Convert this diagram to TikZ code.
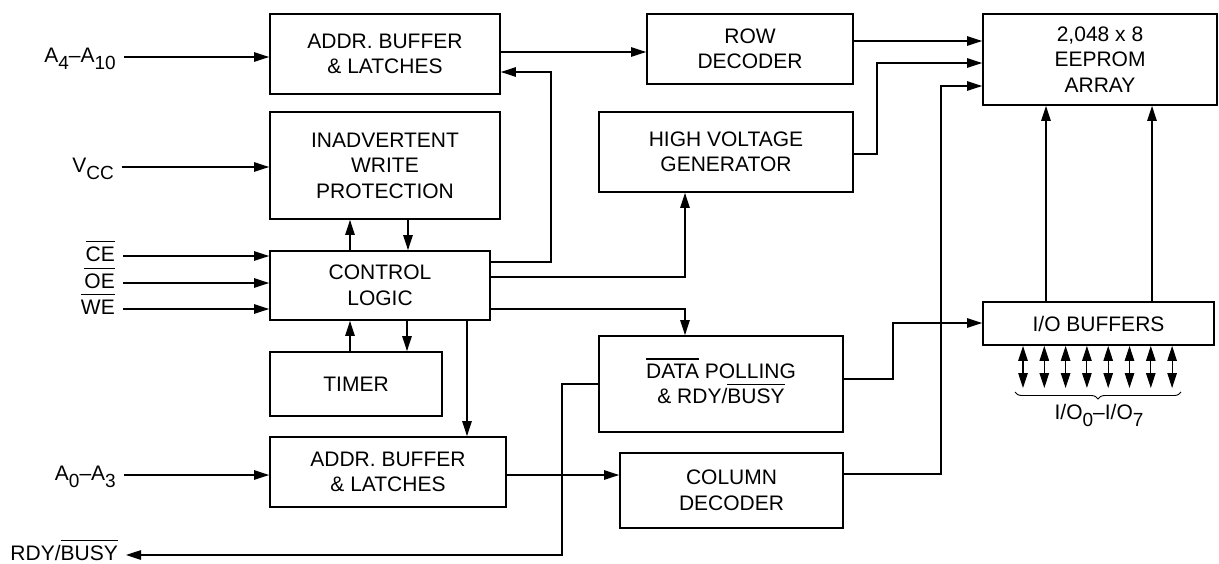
\documentclass[tikz,border=0pt]{standalone}
\usepackage{fontspec}
\setmainfont{Liberation Sans}
\usetikzlibrary{arrows.meta,decorations.pathreplacing}
\newbox\ovlbox
\newcommand\ovl[1]{\setbox\ovlbox=\hbox{#1}\smash{\rlap{\rule[\dimexpr\ht\ovlbox+4.5pt\relax]{\wd\ovlbox}{1.1pt}}}\box\ovlbox}
\newcommand\sub[1]{\raisebox{-7.5pt}{\fontsize{19}{19}\selectfont #1}}
\begin{document}
\begin{tikzpicture}[x=1pt,y=-1pt,
  every node/.style={font=\fontsize{21}{25.5}\selectfont, inner sep=0pt},
  box/.style={draw, line width=1.8pt, align=center},
  arr/.style={line width=1.1pt, -{Triangle[length=15pt,width=9.5pt]}},
  darr/.style={line width=1.1pt, {Triangle[length=15pt,width=9.5pt]}-{Triangle[length=15pt,width=9.5pt]}},
  lbl/.style={anchor=base east, inner xsep=8pt}]
\useasboundingbox (0,0) rectangle (1219,563);

% boxes
\node[box, minimum width=230pt, minimum height=80pt] (addrA) at (385,54) {ADDR. BUFFER\\\& LATCHES};
\node[box, minimum width=230pt, minimum height=107pt] (inadv) at (385,165.5) {INADVERTENT\\WRITE\\PROTECTION};
\node[box, minimum width=220pt, minimum height=69pt] (ctrl) at (380,285.5) {CONTROL\\LOGIC};
\node[box, minimum width=172pt, minimum height=64pt] (timer) at (356,384) {TIMER};
\node[box, minimum width=236pt, minimum height=70pt] (addrB) at (388,472) {ADDR. BUFFER\\\& LATCHES};
\node[box, minimum width=206pt, minimum height=70pt] (row) at (750,49) {ROW\\DECODER};
\node[box, minimum width=254pt, minimum height=80pt] (hv) at (726,152) {HIGH VOLTAGE\\GENERATOR};
\node[box, minimum width=244pt, minimum height=96pt] (poll) at (721,384) {\ovl{DATA} POLLING\\\& RDY/\ovl{BUSY}};
\node[box, minimum width=223pt, minimum height=75pt] (col) at (731.5,490.5) {COLUMN\\DECODER};
\node[box, minimum width=234pt, minimum height=91pt] (eeprom) at (1100,59.5) {2,048 x 8\\EEPROM\\ARRAY};
\node[box, minimum width=231pt, minimum height=43pt] (iobuf) at (1098.5,323.5) {I/O BUFFERS};

% labels
\node[lbl] (la) at (124,62) {A\sub{4}–A\sub{10}};
\node[lbl] (lv) at (122,172) {V\sub{CC}};
\node[lbl] (lce) at (123,261) {\ovl{CE}};
\node[lbl] (loe) at (123,288) {\ovl{OE}};
\node[lbl] (lwe) at (123,314) {\ovl{WE}};
\node[lbl] (lb) at (124,480) {A\sub{0}–A\sub{3}};
\node[lbl] (lr) at (126,560) {RDY/\ovl{BUSY}};
\node[anchor=base] (lio) at (1099,419) {I/O\sub{0}–I/O\sub{7}};

% inputs
\draw[arr] (la.east |- 0,57) -- (addrA.west |- 0,57);
\draw[arr] (lv.east |- 0,167) -- (inadv.west |- 0,167);
\draw[arr] (lce.east |- 0,256) -- (ctrl.west |- 0,256);
\draw[arr] (loe.east |- 0,283) -- (ctrl.west |- 0,283);
\draw[arr] (lwe.east |- 0,309) -- (ctrl.west |- 0,309);
\draw[arr] (lb.east |- 0,475) -- (addrB.west |- 0,475);

% internal
\draw[arr] (addrA.east |- 0,52) -- (row.west |- 0,52);
\draw[arr] (ctrl.east |- 0,262) -- (551,262) -- (551,72) -- (addrA.east |- 0,72);
\draw[arr] (ctrl.north -| 350,0) -- (inadv.south -| 350,0);
\draw[arr] (inadv.south -| 408,0) -- (ctrl.north -| 408,0);
\draw[arr] (timer.north -| 350,0) -- (ctrl.south -| 350,0);
\draw[arr] (ctrl.south -| 407,0) -- (timer.north -| 407,0);
\draw[arr] (ctrl.south -| 467,0) -- (addrB.north -| 467,0);
\draw[arr] (ctrl.east |- 0,277) -| (hv.south -| 685,0);
\draw[arr] (ctrl.east |- 0,309) -| (poll.north -| 685,0);
\draw[arr] (addrB.east |- 0,475) -- (col.west |- 0,475);
\draw[arr] (poll.west |- 0,384) -- (562,384) -- (562,555) -- (lr.east |- 0,555);
\draw[arr] (row.east |- 0,41) -- (eeprom.west |- 0,41);
\draw[arr] (hv.east |- 0,154) -- (877,154) -- (877,63) -- (eeprom.west |- 0,63);
\draw[arr] (col.east |- 0,474) -- (941,474) -- (941,86) -- (eeprom.west |- 0,86);
\draw[arr] (poll.east |- 0,379) -- (893,379) -- (893,323) -- (iobuf.west |- 0,323);
\draw[arr] (iobuf.north -| 1046,0) -- (eeprom.south -| 1046,0);
\draw[arr] (iobuf.north -| 1152,0) -- (eeprom.south -| 1152,0);
\foreach \i in {0,...,7}{
  \pgfmathsetmacro\xx{1023+21.3*\i}
  \coordinate (io\i) at (\xx,388);
  \draw[darr] (iobuf.south -| io\i) -- (io\i);
}
\draw[line width=0.9pt, decorate, decoration={brace, amplitude=7pt, mirror}] (1015,392) -- (1181,392);
\end{tikzpicture}
\end{document}
